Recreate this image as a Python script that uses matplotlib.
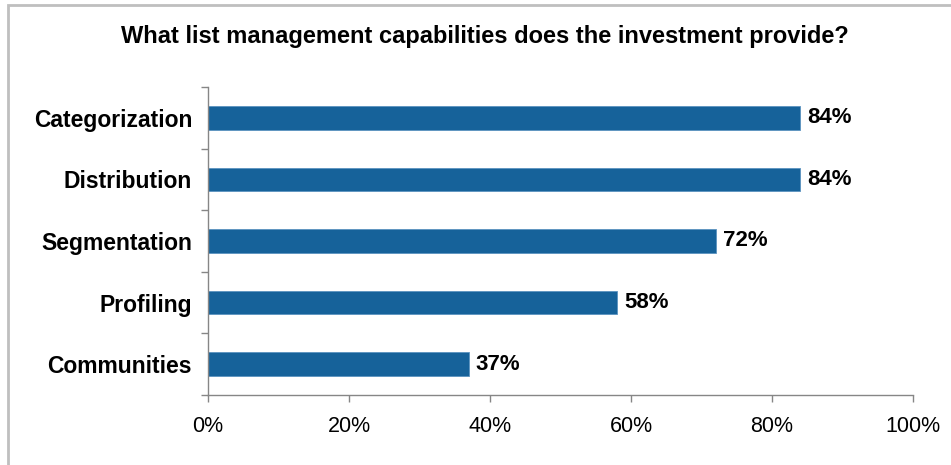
import matplotlib
matplotlib.use("Agg")
import matplotlib.pyplot as plt
from matplotlib.patches import Rectangle
from matplotlib.ticker import FixedLocator, FuncFormatter

plt.rcParams['font.family'] = ['Liberation Sans', 'DejaVu Sans']

title = "What list management capabilities does the investment provide?"
categories = ["Categorization", "Distribution", "Segmentation", "Profiling", "Communities"]
values = [84, 84, 72, 58, 37]
xticks = [0, 20, 40, 60, 80, 100]

bar_color = "#16629A"
axis_color = "#868686"

fig = plt.figure(figsize=(9.51, 4.65), dpi=100)
fig.patch.set_facecolor("white")

# outer frame of the chart area
fig.patches.append(Rectangle((8 / 951, -0.1), 1.2, 1.1 - 5 / 465,
                             transform=fig.transFigure, fill=False,
                             edgecolor="#BFBFBF", linewidth=2.0))

ax = fig.add_axes([208 / 951, 1 - 395 / 465, 705 / 951, 308 / 465])

n = len(categories)
ypos = list(range(n))[::-1]
ax.barh(ypos, values, height=0.38, color=bar_color, edgecolor="#5B93C0", linewidth=0.6)

ax.set_xlim(0, 100)
ax.set_ylim(-0.5, n - 0.5)

for y, v in zip(ypos, values):
    ax.text(v + 1.0, y, f"{v}%", va="center", ha="left", fontsize=16,
            fontweight="bold", color="black")

ax.set_xticks(xticks)
ax.xaxis.set_major_formatter(FuncFormatter(lambda x, p: f"{int(x)}%"))
ax.tick_params(axis="x", direction="out", length=5, width=1, color=axis_color,
               labelsize=15.5, pad=10)

# category names placed at bar centres, tick marks on category boundaries
ax.set_yticks([y - 0.5 for y in range(n + 1)])
ax.set_yticklabels([])
ax.yaxis.set_minor_locator(FixedLocator(ypos))
ax.set_yticklabels(categories, minor=True)
ax.tick_params(axis="y", which="major", direction="out", length=5, width=1, color=axis_color)
ax.tick_params(axis="y", which="minor", length=0, pad=11.5, labelsize=16.5)
for lbl in ax.get_yticklabels(minor=True):
    lbl.set_fontweight("bold")

for s in ["top", "right"]:
    ax.spines[s].set_visible(False)
for s in ["left", "bottom"]:
    ax.spines[s].set_color(axis_color)
    ax.spines[s].set_linewidth(1)

fig.text(485 / 951, 1 - 43 / 465, title, ha="center", va="baseline",
         fontsize=17, fontweight="bold")

fig.savefig("out.png", dpi=100)
